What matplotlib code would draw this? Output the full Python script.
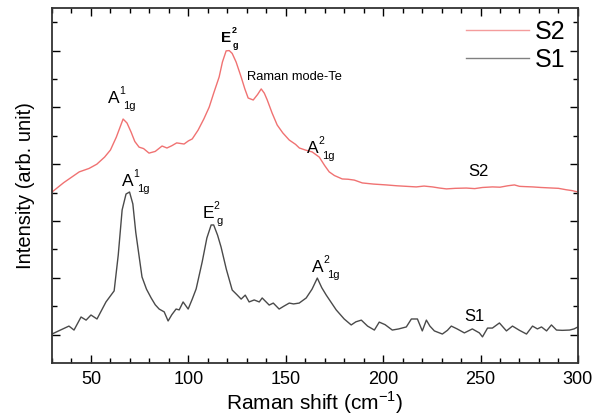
import matplotlib
matplotlib.use('Agg')
import matplotlib.pyplot as plt
from matplotlib.ticker import MultipleLocator

plt.rcParams['font.family'] = ['Liberation Sans', 'DejaVu Sans']
plt.rcParams['mathtext.fontset'] = 'custom'
plt.rcParams['mathtext.rm'] = 'Liberation Sans'

# S2 spectrum (offset upward)
s2_shift = [30, 36, 44, 49, 53, 57, 60, 63, 66.5, 68.5, 70.6, 72.5, 74.7, 77, 79.8, 83, 86.5,
            89, 91.5, 94, 97.8, 100, 102, 105, 108, 110.7, 113, 115.8, 117.5, 119.4, 121,
            122.5, 124.5, 127.1, 129, 130.7, 133.3, 135.5, 137.4, 139, 140.5, 143, 145.6,
            148.5, 151.8, 155, 157, 160, 163.6, 167.2, 170, 172.3, 175, 179, 182, 185.2,
            189.3, 195, 201.6, 207, 212, 217, 221, 225.3, 229, 232.5, 237, 242.7, 247,
            251, 256.1, 260, 264, 267.4, 270, 273, 276.7, 281, 286.9, 290, 294, 297, 300]
s2_int = [6.02, 6.35, 6.73, 6.85, 7.0, 7.25, 7.5, 7.95, 8.59, 8.45, 8.13, 7.8, 7.6, 7.55, 7.39,
          7.45, 7.64, 7.57, 7.65, 7.75, 7.71, 7.82, 7.89, 8.2, 8.6, 9.01, 9.5, 10.07, 10.6,
          10.99, 11.0, 10.9, 10.6, 10.07, 9.65, 9.33, 9.26, 9.45, 9.65, 9.5, 9.26, 8.8,
          8.38, 8.1, 7.85, 7.7, 7.57, 7.5, 7.43, 7.25, 6.95, 6.73, 6.6, 6.48, 6.47, 6.44,
          6.34, 6.3, 6.27, 6.24, 6.22, 6.2, 6.23, 6.2, 6.16, 6.13, 6.15, 6.16, 6.14, 6.18,
          6.2, 6.19, 6.24, 6.27, 6.22, 6.21, 6.2, 6.18, 6.16, 6.15, 6.1, 6.07, 6.02]

# S1 spectrum
s1_shift = [30, 34, 38.7, 41.3, 44.9, 47.5, 50, 53.1, 57.7, 61.9, 64, 66, 68, 69.8, 71.5, 73,
            76.2, 78.5, 80.9, 83, 85, 87.6, 89.6, 91.5, 93.7, 95.3, 97.3, 99.9, 102, 104,
            107.1, 109.5, 111.7, 113, 115, 116.8, 119.5, 122.5, 125, 127.1, 129.2, 131.2,
            133.8, 136.4, 137.9, 141.5, 143.6, 146.6, 149, 151.8, 154, 156.9, 160.5, 163.5,
            166.2, 168.5, 170.8, 175.9, 180, 183.6, 186, 188.8, 192, 195.5, 198, 201, 204.7,
            208, 211.9, 214.5, 217.6, 220.1, 222.2, 224, 226.3, 230.4, 233, 235, 238, 241.7,
            245.8, 249.4, 251, 253.6, 256.1, 259.7, 263.3, 266.4, 270, 273.6, 276.7, 279.2,
            281.3, 283.9, 286.4, 289, 292, 295.7, 298, 300]
s1_int = [1.02, 1.15, 1.3, 1.16, 1.62, 1.51, 1.69, 1.55, 2.15, 2.54, 3.8, 5.39, 5.95, 6.02,
          5.6, 4.6, 3.03, 2.6, 2.29, 2.05, 1.9, 1.8, 1.48, 1.7, 1.9, 1.87, 2.15, 1.9, 2.25,
          2.61, 3.56, 4.4, 4.86, 4.86, 4.5, 4.08, 3.3, 2.57, 2.4, 2.25, 2.39, 2.15, 2.22,
          2.15, 2.29, 2.04, 2.11, 1.9, 2.0, 2.11, 2.08, 2.11, 2.29, 2.6, 2.99, 2.65, 2.39,
          1.87, 1.55, 1.34, 1.45, 1.51, 1.3, 1.16, 1.44, 1.35, 1.16, 1.2, 1.27, 1.55, 1.55,
          1.13, 1.51, 1.3, 1.13, 1.02, 1.15, 1.3, 1.2, 1.06, 1.2, 1.06, 0.92, 1.23, 1.23,
          1.41, 1.13, 1.3, 1.15, 1.02, 1.3, 1.2, 1.27, 1.13, 1.34, 1.16, 1.15, 1.16, 1.2, 1.27]

# peak labels: letter, superscript, subscript, bold
peak_base = ['A', 'E', 'A', 'A', 'E', 'A']
peak_sup = ['1', '2', '2', '1', '2', '2']
peak_sub = ['1g', 'g', '1g', '1g', 'g', '1g']
peak_bold = [False, True, False, False, False, False]
peak_x = [58.8, 116.8, 161.0, 66.0, 107.1, 163.6]
peak_y = [9.15, 11.3, 7.39, 6.23, 5.1, 3.2]

fig = plt.figure(figsize=(6.02, 4.2), dpi=100)
ax = fig.add_axes([0.0864, 0.1357, 0.8736, 0.8453])

ax.plot(s2_shift, s2_int, color='#f07272', lw=1.0, label='S2')
ax.plot(s1_shift, s1_int, color='#4a4a4a', lw=1.0, label='S1')


def peak_label(x, y, base, sup, sub, bold):
    w = 'bold' if bold else 'normal'
    fs = 11 if bold else 12.5
    ax.text(x, y, base, fontsize=fs, fontweight=w, ha='left', va='baseline')
    ax.annotate(sup, (x, y), xytext=(8.3 if not bold else 8, 6.5), textcoords='offset points',
                fontsize=6.5 if bold else 7.5, fontweight=w, ha='left', va='baseline')
    ax.annotate(sub, (x, y), xytext=(10.5 if not bold else 8.5, -4.5), textcoords='offset points',
                fontsize=6.5 if bold else 8, fontweight=w, ha='left', va='baseline')


for b, sp, sb, bo, x, y in zip(peak_base, peak_sup, peak_sub, peak_bold, peak_x, peak_y):
    peak_label(x, y, b, sp, sb, bo)

ax.text(130.2, 10.07, 'Raman mode-Te', fontsize=9.3, ha='left', va='center')
ax.text(249, 6.73, 'S2', fontsize=12, ha='center', va='center')
ax.text(247, 1.65, 'S1', fontsize=12, ha='center', va='center')

ax.set_xlim(30, 300)
ax.set_ylim(0, 12.5)
ax.xaxis.set_major_locator(MultipleLocator(50))
ax.xaxis.set_minor_locator(MultipleLocator(10))
ax.set_yticks([1, 3, 5, 7, 9, 11])
ax.set_yticks([2, 4, 6, 8, 10, 12], minor=True)
ax.set_yticklabels([])
ax.tick_params(which='both', direction='in', top=True, right=True, width=1.0)
ax.tick_params(which='major', length=6, labelsize=13, pad=6)
ax.tick_params(which='minor', length=3.5)
for s in ax.spines.values():
    s.set_linewidth(1.3)
    s.set_color('#333333')

ax.set_xlabel(r'Raman shift (cm$^{-1}$)', fontsize=15, labelpad=1)
ax.set_ylabel('Intensity (arb. unit)', fontsize=14.5, labelpad=6)

leg = ax.legend(loc='upper right', frameon=False, fontsize=18, handlelength=2.5,
                borderaxespad=0, labelspacing=0.15, handletextpad=0.25,
                bbox_to_anchor=(0.996, 0.995))
for h in leg.get_lines():
    h.set_alpha(0.7)

fig.savefig('out.png', dpi=100)
